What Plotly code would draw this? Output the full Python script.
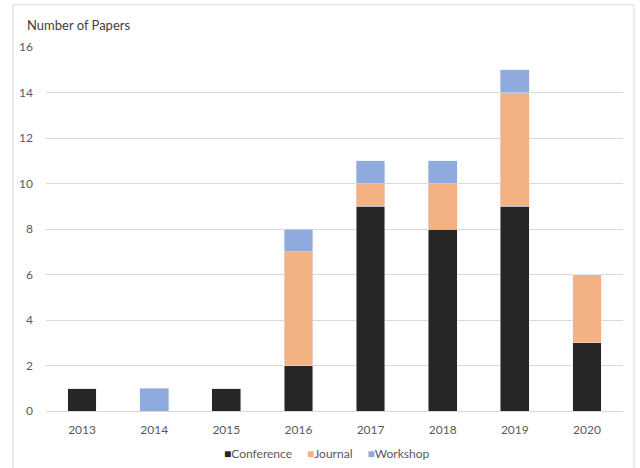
import plotly.graph_objects as go

years = ["2013", "2014", "2015", "2016", "2017", "2018", "2019", "2020"]
conference = [1, 0, 1, 2, 9, 8, 9, 3]
journal = [0, 0, 0, 5, 1, 2, 5, 3]
workshop = [0, 1, 0, 1, 1, 1, 1, 0]

series_names = ["Conference", "Journal", "Workshop"]
series_colors = ["#262626", "#f4b183", "#8faadc"]
series_values = [conference, journal, workshop]

font_family = "Lato, Open Sans, sans-serif"
txt = "#595959"

fig = go.Figure()
for name, color, vals in zip(series_names, series_colors, series_values):
    fig.add_bar(x=years, y=vals, name=name, marker_color=color, showlegend=False)

legend_text = "\u2003\u2002".join(
    f"<span style='color:{c}'>■</span>{n}" for n, c in zip(series_names, series_colors)
)

fig.update_layout(
    barmode="stack",
    bargap=0.6,
    width=640, height=468,
    margin=dict(l=46, r=17, t=47, b=57),
    paper_bgcolor="white", plot_bgcolor="white",
    font=dict(family=font_family, size=12, color=txt),
    xaxis=dict(showgrid=False, showline=True, linecolor="#d9d9d9", ticks="",
               ticklabelstandoff=8, tickfont=dict(size=12, color=txt)),
    yaxis=dict(range=[0, 16], dtick=2, showgrid=True, gridcolor="#d9d9d9",
               zeroline=False, showline=False, ticks="", ticklabelstandoff=12,
               tickfont=dict(size=12, color=txt)),
    annotations=[
        dict(text="Number of Papers", xref="paper", yref="paper",
             x=-0.0364, y=1.0604, xanchor="left", yanchor="middle",
             showarrow=False, font=dict(size=13, color="#404040")),
        dict(text=legend_text, xref="paper", yref="paper",
             x=0.487, y=-0.1154, xanchor="center", yanchor="middle",
             showarrow=False, font=dict(size=12, color=txt)),
    ],
    shapes=[dict(type="rect", xref="paper", yref="paper",
                 x0=-0.0572, x1=1.019, y0=-0.17, y1=1.116,
                 line=dict(color="#d9d9d9", width=1), layer="below")],
)

fig.write_html("out.html", config={"displayModeBar": False},
               post_script="document.body.style.margin='0';")
